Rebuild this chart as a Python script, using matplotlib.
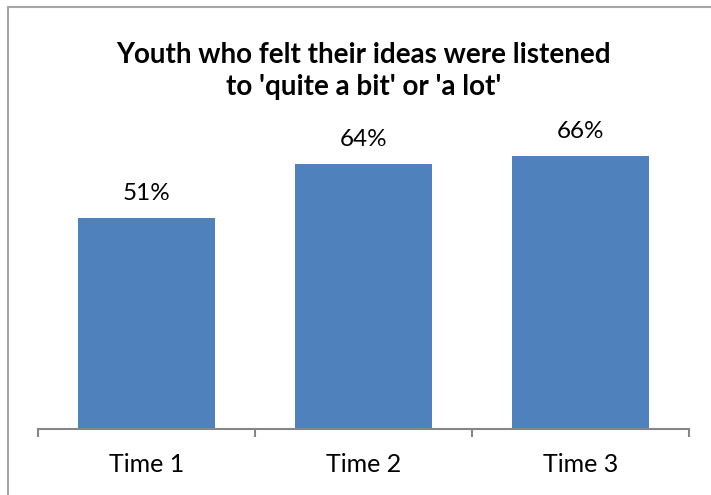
import matplotlib.pyplot as plt
from matplotlib.patches import Rectangle

# Survey results, share answering 'quite a bit' or 'a lot'
categories = ['Time 1', 'Time 2', 'Time 3']
values = [0.51, 0.64, 0.66]
value_labels = ['51%', '64%', '66%']

BAR_COLOR = '#4F81BD'
AXIS_COLOR = '#868686'

plt.rcParams['font.family'] = ['Lato', 'DejaVu Sans']

fig = plt.figure(figsize=(7.11, 4.95), dpi=100)

# chart area frame (runs off the right and bottom edges)
fig.patches.append(Rectangle((8 / 711, -0.1), 1.0, 1 - 7 / 495 + 0.1,
                             transform=fig.transFigure, fill=False,
                             edgecolor='#A6A6A6', linewidth=1.5))

ax = fig.add_axes([38 / 711, 66 / 495, 651 / 711, 0.669])
x = range(len(categories))
bars = ax.bar(x, values, width=0.627, color=BAR_COLOR)

for bar, label in zip(bars, value_labels):
    ax.annotate(label, (bar.get_x() + bar.get_width() / 2, bar.get_height()),
                xytext=(0, 10), textcoords='offset points',
                ha='center', va='bottom', fontsize=17.5)

ax.set_xlim(-0.5, 2.5)
ax.set_ylim(0, 0.8)

for side in ['top', 'right', 'left']:
    ax.spines[side].set_visible(False)
ax.spines['bottom'].set_color(AXIS_COLOR)
ax.spines['bottom'].set_linewidth(1.5)

ax.set_yticks([])
ax.set_xticks([-0.5, 0.5, 1.5, 2.5])
ax.set_xticklabels([])
ax.set_xticks(list(x), minor=True)
ax.set_xticklabels(categories, minor=True, fontsize=18)
ax.tick_params(axis='x', which='major', length=6, width=1.5,
               color=AXIS_COLOR, direction='out')
ax.tick_params(axis='x', which='minor', length=0, pad=17)

fig.text(364 / 711, 1 - 71 / 495,
         "Youth who felt their ideas were listened\nto 'quite a bit' or 'a lot'",
         ha='center', va='center', fontsize=20, fontweight='bold',
         linespacing=1.3)

fig.savefig('out.png', dpi=100)
